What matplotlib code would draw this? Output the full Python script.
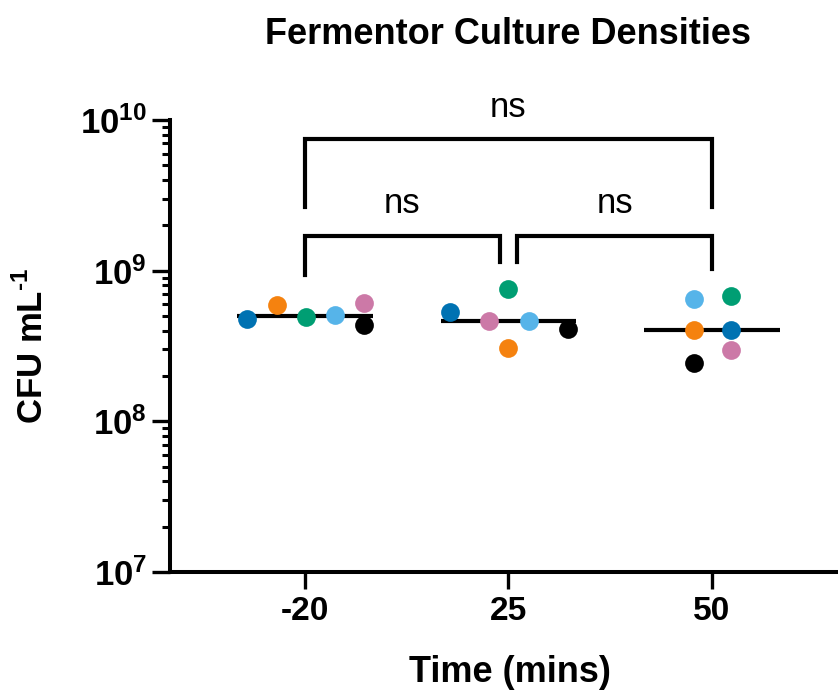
import numpy as np
import matplotlib
matplotlib.use("Agg")
import matplotlib.pyplot as plt
from matplotlib.ticker import LogLocator, FixedLocator, NullFormatter

plt.rcParams['font.family'] = ['Liberation Sans', 'DejaVu Sans']
plt.rcParams['mathtext.fontset'] = 'custom'
plt.rcParams['mathtext.rm'] = 'Liberation Sans:bold'
plt.rcParams['mathtext.bf'] = 'Liberation Sans:bold'

# Culture densities (CFU/mL), one list per replicate, values at -20, 25, 50 mins
times = ['-20', '25', '50']
rep_dark_blue = [4.81e8, 5.29e8, 4.06e8]
rep_orange = [5.89e8, 3.06e8, 4.02e8]
rep_green = [4.93e8, 7.57e8, 6.76e8]
rep_light_blue = [5.06e8, 4.67e8, 6.52e8]
rep_pink = [6.11e8, 4.67e8, 2.99e8]
rep_black = [4.33e8, 4.11e8, 2.44e8]

# horizontal scatter offsets (in category widths) so points don't overlap
off_dark_blue = [-0.287, -0.287, 0.092]
off_orange = [-0.139, 0.0, -0.087]
off_green = [0.005, 0.0, 0.092]
off_light_blue = [0.147, 0.10, -0.087]
off_pink = [0.291, -0.094, 0.092]
off_black = [0.291, 0.29, -0.087]

# comparisons: group pairs, bracket height, leg bottoms, label
comp_pairs = [(0, 2), (0, 1), (1, 2)]
comp_heights = [7.46e9, 1.71e9, 1.71e9]
comp_leg_ends = [(2.63e9, 2.63e9), (9.31e8, 1.15e9), (1.15e9, 1.03e9)]
comp_labels = ['ns', 'ns', 'ns']

series = [
    (rep_dark_blue, off_dark_blue, '#0072B2'),
    (rep_orange, off_orange, '#F5820F'),
    (rep_green, off_green, '#009E73'),
    (rep_light_blue, off_light_blue, '#56B4E9'),
    (rep_pink, off_pink, '#CC79A7'),
    (rep_black, off_black, '#000000'),
]

fig = plt.figure(figsize=(8.38, 6.91), dpi=100)
ax = fig.add_axes([0.2023, 0.1722, 0.809, 0.654])

x = np.arange(len(times))

for vals, offs, col in series:
    ax.plot(x + np.array(offs), vals, 'o', ms=13.5, color=col, mec='none',
            zorder=3, clip_on=False)

# median lines
all_vals = np.array([s[0] for s in series])
medians = np.median(all_vals, axis=0)
for i, m in enumerate(medians):
    ax.plot([i - 0.332, i + 0.332], [m, m], color='black', lw=3,
            solid_capstyle='butt', zorder=2)

# significance brackets
gap = 0.044
for k, (a, b) in enumerate(comp_pairs):
    xa, xb = a, b
    # shorten adjacent brackets that meet at the same group
    if (b - a) == 1 and a == 0:
        xb = b - gap
    if (b - a) == 1 and a == 1:
        xa = a + gap
    h = comp_heights[k]
    la, lb = comp_leg_ends[k]
    ax.plot([xa, xa, xb, xb], [la, h, h, lb], color='black', lw=3,
            solid_joinstyle='miter', clip_on=False, zorder=2)
    ax.annotate(comp_labels[k], xy=((xa + xb) / 2, h), xytext=(0, 16),
                textcoords='offset points', ha='center', va='baseline',
                fontsize=25, annotation_clip=False)

ax.set_yscale('log')
ax.set_ylim(1e7, 1e10)
ax.set_xlim(-0.666, 2.666)

ax.yaxis.set_major_locator(FixedLocator([1e7, 1e8, 1e9, 1e10]))
ax.set_yticklabels([r'$\mathbf{10^{7}}$', r'$\mathbf{10^{8}}$',
                    r'$\mathbf{10^{9}}$', r'$\mathbf{10^{10}}$'])
ax.yaxis.set_minor_locator(LogLocator(base=10, subs=np.arange(2, 10)))
ax.yaxis.set_minor_formatter(NullFormatter())

ax.set_xticks(x)
ax.set_xticklabels(times, fontsize=24, fontweight='bold')

ax.tick_params(axis='y', which='major', length=12.7, width=2.4, pad=3.5,
               labelsize=25)
ax.tick_params(axis='y', which='minor', length=5.8, width=2.2)
ax.tick_params(axis='x', which='major', length=12.5, width=2.4, pad=5)

for side in ['top', 'right']:
    ax.spines[side].set_visible(False)
for side in ['left', 'bottom']:
    ax.spines[side].set_linewidth(2.9)

ax.set_ylabel('CFU mL$^{\\mathbf{\u2010}\\mathbf{1}}$', fontsize=25,
              fontweight='bold')
ax.yaxis.set_label_coords(-0.176, 0.5)
ax.set_xlabel('Time (mins)', fontsize=26, fontweight='bold')
ax.xaxis.set_label_coords(0.502, -0.184)

ax.set_title('Fermentor Culture Densities', fontsize=26, fontweight='bold',
             y=1.168, pad=0)

fig.savefig('out.png', dpi=100)
